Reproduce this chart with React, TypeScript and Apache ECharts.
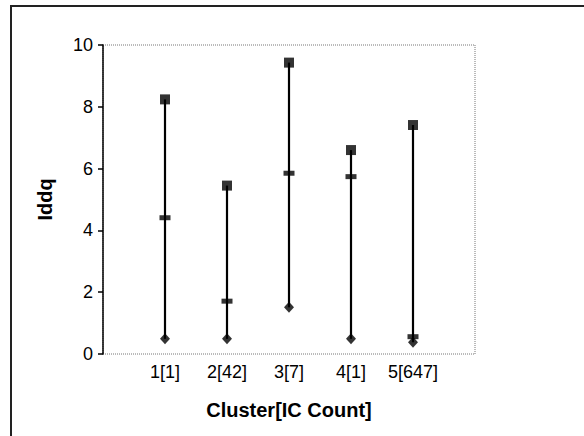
import React, { useEffect, useRef } from "react";
import * as echarts from "echarts";

// Clusters, padded with blank slots at both ends so the points sit inside the frame
const categories = ["", "1[1]", "2[42]", "3[7]", "4[1]", "5[647]", ""];
const highValues = [8.24, 5.45, 9.43, 6.6, 7.41];
const midValues = [4.41, 1.71, 5.85, 5.74, 0.56];
const lowValues = [0.49, 0.49, 1.51, 0.49, 0.38];
const yTicks = [0, 2, 4, 6, 8, 10];

export default function App() {
  const ref = useRef<HTMLDivElement>(null);

  useEffect(() => {
    if (!ref.current) return;
    const chart = echarts.init(ref.current, undefined, { renderer: "svg" });
    const font = "'Liberation Sans', Arial, sans-serif";
    const idx = (i: number) => i + 1;

    const rangeData = highValues.map((h, i) => [idx(i), lowValues[i], h]);

    chart.setOption({
      animation: false,
      backgroundColor: "#ffffff",
      textStyle: { fontFamily: font },
      graphic: [
        {
          type: "rect",
          shape: { x: 11, y: 6, width: 640, height: 500 },
          style: { fill: "none", stroke: "#222", lineWidth: 2 },
          z: -10,
        },
      ],
      grid: {
        left: 103,
        top: 45,
        right: 109,
        bottom: 82,
        show: true,
        borderColor: "#777",
        borderWidth: 1,
        borderType: "dotted",
      },
      xAxis: {
        type: "category",
        data: categories,
        boundaryGap: false,
        axisTick: { show: false },
        axisLine: { show: false },
        axisLabel: { color: "#000", fontSize: 18, fontFamily: font, margin: 9, interval: 0 },
        name: "Cluster[IC Count]",
        nameLocation: "middle",
        nameGap: 46,
        nameTextStyle: { color: "#000", fontSize: 20, fontWeight: "bold", fontFamily: font },
        splitLine: { show: false },
      },
      yAxis: {
        type: "value",
        min: yTicks[0],
        max: yTicks[yTicks.length - 1],
        interval: 2,
        axisLine: { show: true, lineStyle: { color: "#000", width: 1.5 } },
        axisTick: { show: true, length: 5, inside: false, lineStyle: { color: "#000", width: 1.5 } },
        axisLabel: { color: "#000", fontSize: 18, fontFamily: font, margin: 10 },
        splitLine: { show: false },
        name: "Iddq",
        nameLocation: "middle",
        nameGap: 48,
        nameTextStyle: { color: "#000", fontSize: 20, fontWeight: "bold", fontFamily: font },
      },
      series: [
        {
          type: "custom",
          data: rangeData,
          encode: { x: 0, y: [1, 2] },
          renderItem: (params: any, api: any) => {
            const x = api.value(0);
            const lo = api.coord([x, api.value(1)]);
            const hi = api.coord([x, api.value(2)]);
            return {
              type: "line",
              shape: { x1: lo[0], y1: lo[1], x2: hi[0], y2: hi[1] },
              style: { stroke: "#000", lineWidth: 2.2 },
            };
          },
          z: 1,
        },
        {
          type: "scatter",
          data: highValues.map((v, i) => [idx(i), v]),
          symbol: "rect",
          symbolSize: 10,
          itemStyle: { color: "#000" },
          z: 3,
        },
        {
          type: "scatter",
          data: midValues.map((v, i) => [idx(i), v]),
          symbol: "rect",
          symbolSize: [11, 5],
          itemStyle: { color: "#000" },
          z: 3,
        },
        {
          type: "scatter",
          data: lowValues.map((v, i) => [idx(i), v]),
          symbol: "diamond",
          symbolSize: [10, 11],
          itemStyle: { color: "#000" },
          z: 3,
        },
      ],
    });

    return () => chart.dispose();
  }, []);

  return <div ref={ref} style={{ width: 584, height: 436, position: "absolute", left: 0, top: 0 }} />;
}
